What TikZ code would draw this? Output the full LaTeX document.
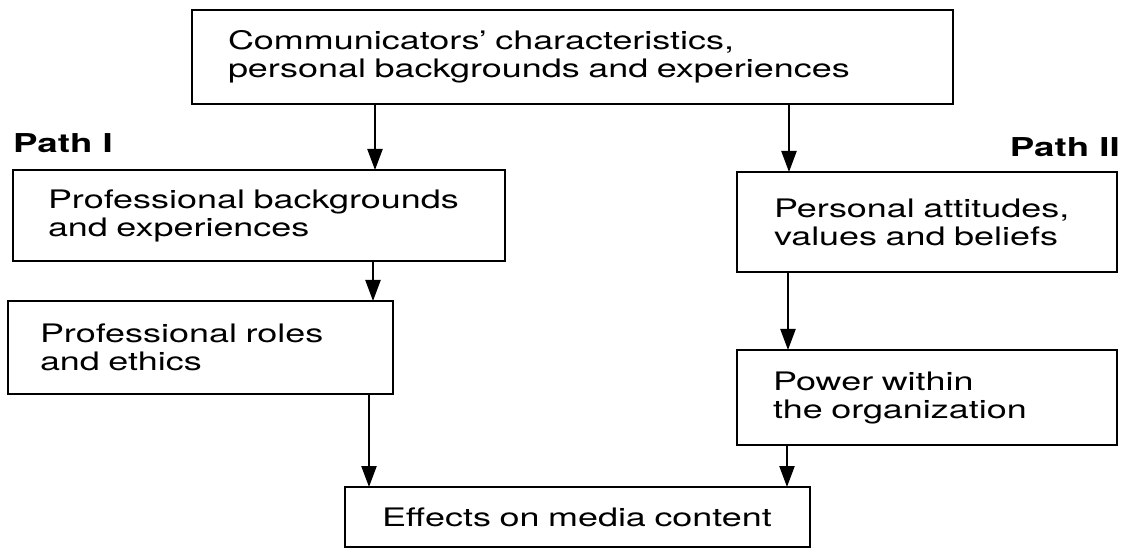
\documentclass[tikz,border=0pt]{standalone}
\usepackage{fontspec}
\setmainfont{TeX Gyre Heros}[FakeStretch=1.41]
\usetikzlibrary{arrows.meta}
\begin{document}
\begin{tikzpicture}[x=1pt,y=-1pt,
  box/.style={draw, line width=2.5pt, outer sep=0pt, anchor=north west, align=left,
    inner ysep=0pt, font=\fontsize{25.5}{28}\selectfont},
  arr/.style={line width=2.3pt, -{Triangle[length=21pt,width=15pt]}},
  pathlbl/.style={inner sep=0pt, font=\fontsize{26}{30}\selectfont\bfseries}]
\useasboundingbox[fill=white] (0,0) rectangle (1128,548);
% boxes
\node[box, minimum width=761pt, minimum height=94pt, inner xsep=36pt, text width=689pt]
  (top) at (192,10) {\mbox{Communicators' characteristics,}\\\mbox{personal backgrounds and experiences}};
\node[box, minimum width=492pt, minimum height=91pt, inner xsep=35pt, text width=422pt]
  (prof) at (13,170) {\mbox{Professional backgrounds}\\\mbox{and experiences}};
\node[box, minimum width=385pt, minimum height=93pt, inner xsep=32pt, text width=321pt]
  (roles) at (8,301) {\mbox{Professional roles}\\\mbox{and ethics}};
\node[box, minimum width=380pt, minimum height=100pt, inner xsep=37pt, text width=306pt]
  (attitudes) at (737,172) {\mbox{Personal attitudes,}\\\mbox{values and beliefs}};
\node[box, minimum width=380pt, minimum height=95pt, inner xsep=36pt, text width=308pt]
  (power) at (737,350) {\mbox{Power within}\\\mbox{the organization}};
\node[box, minimum width=465pt, minimum height=60pt, inner xsep=37pt, text width=391pt]
  (effects) at (345,487) {\mbox{Effects on media content}};
% labels
\node[pathlbl, anchor=base west] (p1) at (13,153) {Path I};
\node[pathlbl, anchor=base east] (p2) at (1120,157) {Path II};
% arrows
\draw[arr] (top.south -| 375,0) -- (prof.north -| 375,0);
\draw[arr] (prof.south -| 373,0) -- (roles.north -| 373,0);
\draw[arr] (roles.south -| 369,0) -- (effects.north -| 369,0);
\draw[arr] (top.south -| 789,0) -- (attitudes.north -| 789,0);
\draw[arr] (attitudes.south -| 788,0) -- (power.north -| 788,0);
\draw[arr] (power.south -| 787,0) -- (effects.north -| 787,0);
\end{tikzpicture}
\end{document}
